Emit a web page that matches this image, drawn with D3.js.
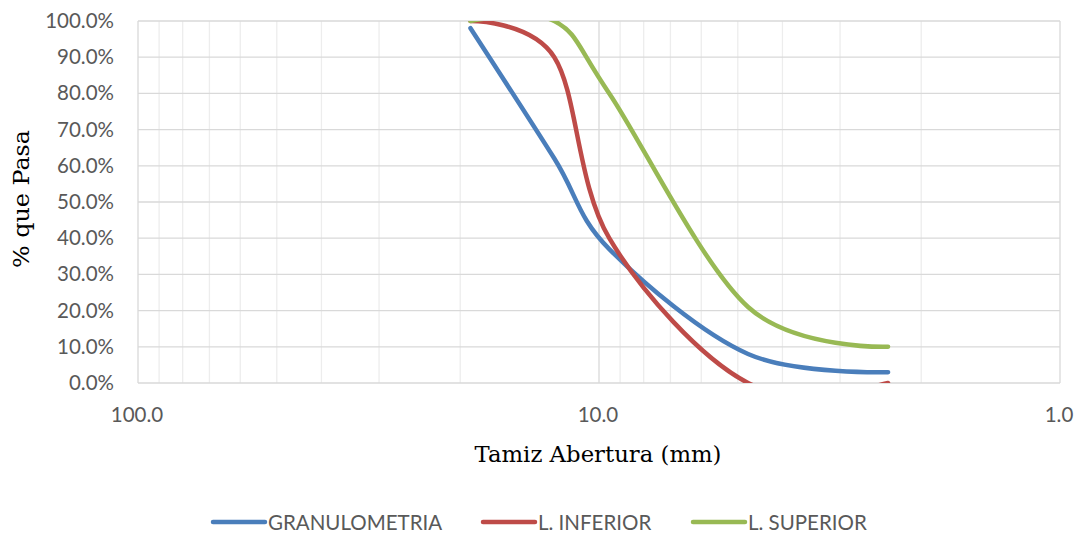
<!DOCTYPE html>
<html>
<head>
<meta charset="utf-8">
<script src="https://cdn.jsdelivr.net/npm/d3@7"></script>
<style>
  body { margin: 0; background: #fff; }
  .tick-label { font-family: Lato, "Open Sans", sans-serif; font-size: 20.5px; fill: #595959; }
  .axis-title { font-family: "DejaVu Serif", "Liberation Serif", serif; font-size: 22.5px; fill: #000; }
  .legend-text { font-family: Lato, "Open Sans", sans-serif; font-size: 20.5px; fill: #595959; }
</style>
</head>
<body>
<svg id="chart" width="1078" height="535"></svg>
<script>
// sieve openings (mm) and % passing
const SIEVES = [19.0, 12.5, 9.5, 4.75, 2.36];
const GRANULOMETRIA = [98, 62, 37, 8, 3];
const L_INFERIOR = [100, 90, 40, 0, 0];
const L_SUPERIOR = [100, 100, 80, 21, 10];

const X_TICKS = [100, 10, 1];
const Y_TICKS = [0, 10, 20, 30, 40, 50, 60, 70, 80, 90, 100];
const MINOR_X = [90, 80, 70, 60, 50, 40, 30, 20, 9, 8, 7, 6, 5, 4, 3, 2];

const SERIES = [
  { name: "GRANULOMETRIA", values: GRANULOMETRIA, color: "#4A7EBB" },
  { name: "L. INFERIOR", values: L_INFERIOR, color: "#BE4B48" },
  { name: "L. SUPERIOR", values: L_SUPERIOR, color: "#98B954" }
];

const svg = d3.select("#chart");
const plotLeft = 138, plotRight = 1060, plotTop = 21, plotBottom = 383;

const x = d3.scaleLog().domain([100, 1]).range([plotLeft, plotRight]);
const y = d3.scaleLinear().domain([0, 100]).range([plotBottom, plotTop]);

// minor vertical grid
svg.append("g")
  .selectAll("line").data(MINOR_X).enter().append("line")
  .attr("x1", d => x(d)).attr("x2", d => x(d))
  .attr("y1", plotTop).attr("y2", plotBottom)
  .attr("stroke", "#EDEDED").attr("stroke-width", 1.3);

// horizontal grid
svg.append("g")
  .selectAll("line").data(Y_TICKS).enter().append("line")
  .attr("x1", plotLeft).attr("x2", plotRight)
  .attr("y1", d => y(d)).attr("y2", d => y(d))
  .attr("stroke", "#D9D9D9").attr("stroke-width", 1.3);

// major vertical grid
svg.append("g")
  .selectAll("line").data(X_TICKS).enter().append("line")
  .attr("x1", d => x(d)).attr("x2", d => x(d))
  .attr("y1", plotTop).attr("y2", plotBottom)
  .attr("stroke", "#D9D9D9").attr("stroke-width", 1.3);

// y tick labels
svg.append("g")
  .selectAll("text").data(Y_TICKS).enter().append("text")
  .attr("class", "tick-label")
  .attr("x", 114)
  .attr("y", d => y(d) + 7)
  .attr("text-anchor", "end")
  .text(d => d3.format(".1f")(d) + "%");

// x tick labels
svg.append("g")
  .selectAll("text").data(X_TICKS).enter().append("text")
  .attr("class", "tick-label")
  .attr("x", d => x(d) - 1)
  .attr("y", 422)
  .attr("text-anchor", "middle")
  .text(d => d3.format(".1f")(d));

// axis titles
svg.append("text").attr("class", "axis-title")
  .attr("x", 598).attr("y", 462)
  .attr("text-anchor", "middle")
  .attr("textLength", 247)
  .attr("lengthAdjust", "spacingAndGlyphs")
  .text("Tamiz Abertura (mm)");

svg.append("text").attr("class", "axis-title")
  .attr("transform", "translate(29,199) rotate(-90)")
  .attr("text-anchor", "middle")
  .attr("textLength", 138)
  .attr("lengthAdjust", "spacingAndGlyphs")
  .text("% que Pasa");

// lines, clipped to plot area
svg.append("clipPath").attr("id", "plot-clip")
  .append("rect")
  .attr("x", plotLeft).attr("y", plotTop)
  .attr("width", plotRight - plotLeft).attr("height", plotBottom - plotTop);

const line = d3.line()
  .x(d => x(d[0]))
  .y(d => y(d[1]))
  .curve(d3.curveCatmullRom.alpha(0));

svg.append("g").attr("clip-path", "url(#plot-clip)")
  .selectAll("path").data(SERIES).enter().append("path")
  .attr("d", s => line(SIEVES.map((v, i) => [v, s.values[i]])))
  .attr("fill", "none")
  .attr("stroke", s => s.color)
  .attr("stroke-width", 4.5)
  .attr("stroke-linecap", "round")
  .attr("stroke-linejoin", "round");

// legend
const legendX = [213, 483, 693];
const legend = svg.append("g")
  .selectAll("g").data(SERIES).enter().append("g")
  .attr("transform", (d, i) => `translate(${legendX[i]},522)`);

legend.append("line")
  .attr("x1", 0).attr("x2", 52)
  .attr("y1", 0).attr("y2", 0)
  .attr("stroke", d => d.color)
  .attr("stroke-width", 4.5)
  .attr("stroke-linecap", "round");

legend.append("text").attr("class", "legend-text")
  .attr("x", 55).attr("y", 7.5)
  .text(d => d.name);
</script>
</body>
</html>
